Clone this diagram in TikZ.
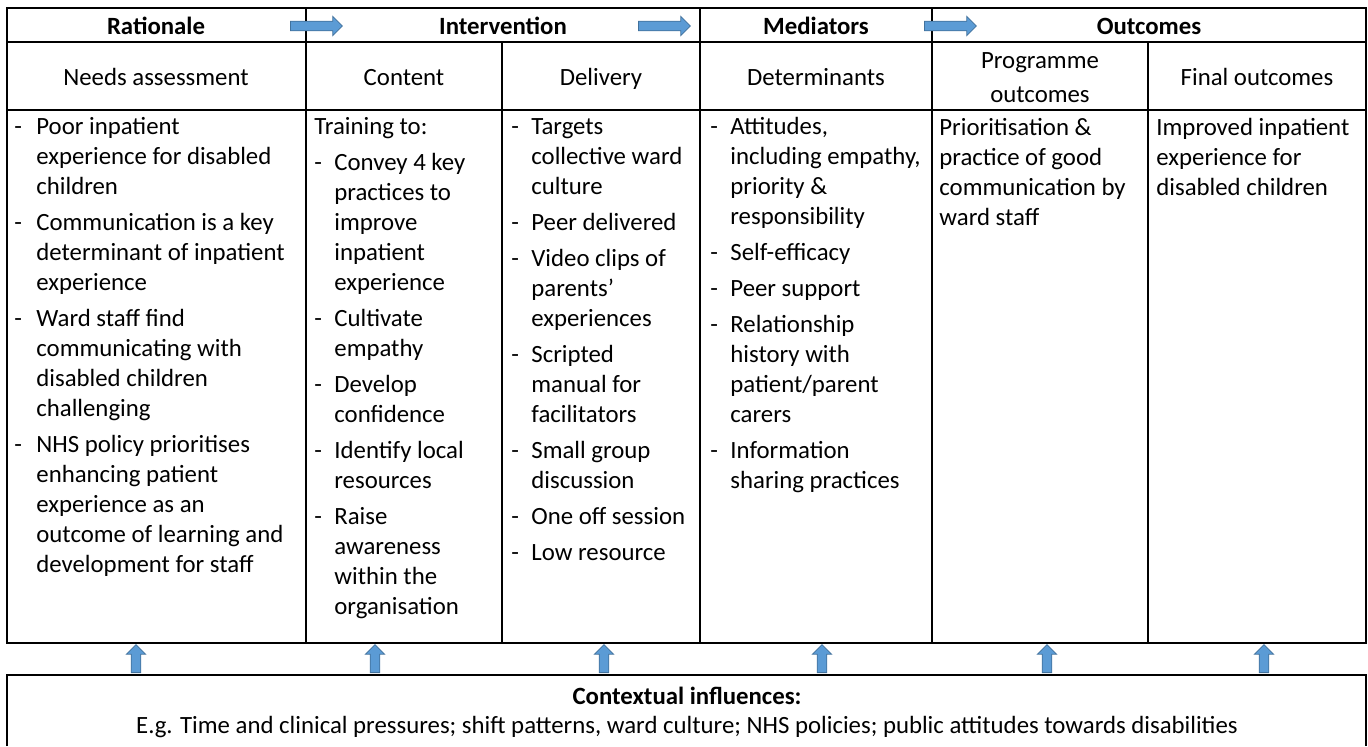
\documentclass[tikz,border=0pt]{standalone}
\usepackage{fontspec}
\setmainfont{Carlito}
\usepackage{tikz}
\usetikzlibrary{shapes.arrows}
\definecolor{arrowfill}{HTML}{5B9BD5}
\definecolor{arrowline}{HTML}{41719C}
\newcommand{\bodyfont}{\fontsize{12.4}{15}\selectfont}

\begin{document}
\begin{tikzpicture}[x=0.5pt,y=-0.5pt,
    grid/.style={black,line width=0.8pt},
    head/.style={font=\bodyfont\bfseries,inner sep=0pt,text height=8.8pt,text depth=2.6pt},
    sub/.style={font=\bodyfont,inner sep=0pt,align=center},
    subone/.style={sub,text height=8.8pt,text depth=2.6pt},
    cell/.style={font=\bodyfont,inner sep=0pt,anchor=north west,align=left},
    blockarrow/.style={single arrow,fill=arrowfill,draw=arrowline,line width=0.4pt,
        inner xsep=0pt,inner ysep=2.2pt,single arrow head extend=2.4pt,
        single arrow tip angle=90,minimum height=26pt},
    uparrow/.style={blockarrow,inner xsep=2.2pt,inner ysep=0pt,
        minimum height=14pt,shape border rotate=90}]
\useasboundingbox (0,0) rectangle (1368,746);
% table frame
\draw [grid] (7,8) rectangle (1366,643);
\draw [grid] (7,42) -- (1366,42);
\draw [grid] (7,110) -- (1366,110);
\draw [grid] (306,8) -- (306,643);
\draw [grid] (700,8) -- (700,643);
\draw [grid] (932,8) -- (932,643);
\draw [grid] (502,42) -- (502,643);
\draw [grid] (1148,42) -- (1148,643);
% context box
\draw [grid] (7,746) -- (7,675) -- (1366,675) -- (1366,746);
% header row
\node [head] (rationale) at (156,28) {Rationale};
\node [head] (intervention) at (503,28) {Intervention};
\node [head] (mediators) at (816,28) {Mediators};
\node [head] (outcomes) at (1149,28) {Outcomes};
\node [blockarrow] (arrowA) at (314,26) {};
\node [blockarrow] (arrowB) at (662,26) {};
\node [blockarrow] (arrowC) at (948,26) {};
% sub headers
\node [subone] (needs) at (156,79) {Needs assessment};
\node [subone] (content) at (404,79) {Content};
\node [subone] (delivery) at (601,79) {Delivery};
\node [subone] (determinants) at (816,79) {Determinants};
\node [sub] (progout) at (1040,78) {Programme\\[2pt]outcomes};
\node [subone] (finalout) at (1257,79) {Final outcomes};
% cells
\node [cell] (needstext) at (14,113) {\begin{tabular}{@{}p{11pt}@{}l@{}}
- & Poor inpatient\\
  & experience for disabled\\
  & children\\[3pt]
- & Communication is a key\\
  & determinant of inpatient\\
  & experience\\[3pt]
- & Ward staff find\\
  & communicating with\\
  & disabled children\\
  & challenging\\[3pt]
- & NHS policy prioritises\\
  & enhancing patient\\
  & experience as an\\
  & outcome of learning and\\
  & development for staff
\end{tabular}};
\node [cell] (contenttext) at (314,113) {\begin{tabular}{@{}p{10pt}@{}l@{}}
\multicolumn{2}{@{}l@{}}{Training to:}\\[3pt]
- & Convey 4 key\\
  & practices to\\
  & improve\\
  & inpatient\\
  & experience\\[3pt]
- & Cultivate\\
  & empathy\\[3pt]
- & Develop\\
  & confidence\\[3pt]
- & Identify local\\
  & resources\\[3pt]
- & Raise\\
  & awareness\\
  & within the\\
  & organisation
\end{tabular}};
\node [cell] (deliverytext) at (511,113) {\begin{tabular}{@{}p{10pt}@{}l@{}}
- & Targets\\
  & collective ward\\
  & culture\\[3pt]
- & Peer delivered\\[3pt]
- & Video clips of\\
  & parents'\\
  & experiences\\[3pt]
- & Scripted\\
  & manual for\\
  & facilitators\\[3pt]
- & Small group\\
  & discussion\\[3pt]
- & One off session\\[3pt]
- & Low resource
\end{tabular}};
\node [cell] (determtext) at (710,113) {\begin{tabular}{@{}p{10pt}@{}l@{}}
- & Attitudes,\\
  & including empathy,\\
  & priority \&\\
  & responsibility\\[3pt]
- & Self-efficacy\\[3pt]
- & Peer support\\[3pt]
- & Relationship\\
  & history with\\
  & patient/parent\\
  & carers\\[3pt]
- & Information\\
  & sharing practices
\end{tabular}};
\node [cell] (progtext) at (939,118) {Prioritisation \&\\practice of good\\communication by\\ward staff};
\node [cell] (finaltext) at (1156,118) {Improved inpatient\\experience for\\disabled children};
% contextual influences
\node [head] (ctxtitle) at (687,698) {Contextual influences:};
\node [subone] (ctxtext) at (687,727) {E.g. Time and clinical pressures; shift patterns, ward culture; NHS policies; public attitudes towards disabilities};
\foreach \x/\n in {136/1,375/2,604/3,822/4,1047/5,1264/6}
  \node [uparrow] (up\n) at (\x,661) {};
\end{tikzpicture}
\end{document}
